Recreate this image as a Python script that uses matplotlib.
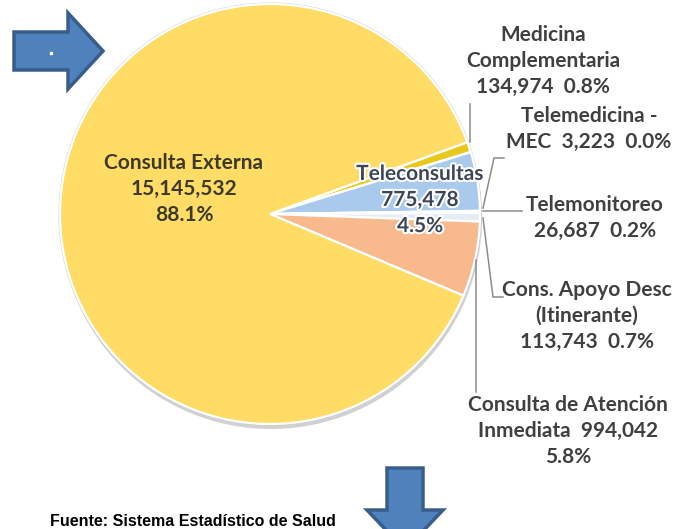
import matplotlib
matplotlib.use("Agg")
import matplotlib.pyplot as plt
from matplotlib.patches import Polygon, Circle
import matplotlib.patheffects as pe

# ---- data ----
categories = ["Medicina Complementaria", "Telemedicina - MEC", "Teleconsultas",
              "Telemonitoreo", "Cons. Apoyo Desc (Itinerante)",
              "Consulta de Atención Inmediata", "Consulta Externa"]
values = [134974, 3223, 775478, 26687, 113743, 994042, 15145532]
percents = ["0.8%", "0.0%", "4.5%", "0.2%", "0.7%", "5.8%", "88.1%"]
colors = ["#E9C81C", "#C9D9EE", "#A9CAEC", "#4A7EBB", "#E4ECF6", "#F8B98C", "#FFDC66"]
explode = [0.0, 0.0, 0.0, 0.0, 0.0, 0.0, 0.015]
source = "Fuente: Sistema Estadístico de Salud"

W, H = 686, 529
fig = plt.figure(figsize=(W / 100, H / 100), dpi=100)

# pie axes: pixel coordinates (y down)
cx, cy, r = 270, 214, 210
ax = fig.add_axes([0, 0, 1, 1])
ax.set_xlim(0, W)
ax.set_ylim(H, 0)
ax.axis("off")

# shadow / rim behind the pie
ax.add_patch(Circle((cx + 1, cy + 4), r + 1, facecolor="#9a9a9a", edgecolor="none", alpha=0.45, zorder=0))
ax.add_patch(Circle((cx, cy), r + 1.5, facecolor="#c8c8d8", edgecolor="none", zorder=0.5))

wedges, _ = ax.pie(values, colors=colors, explode=explode, startangle=-20,
                   counterclock=True, center=(cx, cy), radius=r, frame=True,
                   wedgeprops=dict(edgecolor="white", linewidth=1.6))
ax.set_xlim(0, W)
ax.set_ylim(H, 0)
ax.set_aspect("auto")
ax.axis("off")

font = "Lato"
tc = "#404040"

def lab(x, y, s, color=tc, glow=False, ha="center"):
    t = ax.text(x, y, s, ha=ha, va="center", fontsize=15, fontweight="bold",
                family=font, color=color, linespacing=1.38, zorder=10)
    if glow:
        t.set_path_effects([pe.withStroke(linewidth=3, foreground="white")])
    return t

def fmt(v):
    return f"{v:,}"

lab(184, 189, f"{categories[6]}\n{fmt(values[6])}\n{percents[6]}", color="#3d3a2c")
lab(420, 200, f"{categories[2]}\n{fmt(values[2])}\n{percents[2]}", color="#3c4656", glow=True)
lab(543, 61, f"Medicina\nComplementaria\n{fmt(values[0])}  {percents[0]}")
lab(589, 129, f"Telemedicina -\nMEC  {fmt(values[1])}  {percents[1]}")
lab(595, 218, f"{categories[3]}\n{fmt(values[3])}  {percents[3]}")
lab(587, 316, f"Cons. Apoyo Desc\n(Itinerante)\n{fmt(values[4])}  {percents[4]}")
lab(568, 431, f"Consulta de Atención\nInmediata  {fmt(values[5])}\n{percents[5]}")

lc = "#8c8c8c"
lw = 1.1
ax.plot([470, 470], [104, 142], color=lc, lw=lw, zorder=9)
ax.plot([504, 494, 483], [158, 158, 208], color=lc, lw=lw, zorder=9)
ax.plot([483, 522], [211, 211], color=lc, lw=lw, zorder=9)
ax.plot([483, 493, 503], [218, 297, 297], color=lc, lw=lw, zorder=9)
ax.plot([476, 476], [260, 392], color=lc, lw=lw, zorder=9)

# decorative arrows
arrow_fill, arrow_edge = "#4F81BD", "#385D8A"
ax.add_patch(Polygon([(14, 32), (68, 32), (68, 13), (103, 51), (68, 89), (68, 70), (14, 70)],
                     closed=True, facecolor=arrow_fill, edgecolor=arrow_edge, lw=2.5, zorder=12))
ax.plot([51], [53], marker="s", ms=2, color="white", zorder=13)
ax.add_patch(Polygon([(387, 468), (423, 468), (423, 510), (443, 510), (405, 550), (367, 510), (387, 510)],
                     closed=True, facecolor=arrow_fill, edgecolor=arrow_edge, lw=2.5, zorder=12))

ax.text(50, 522, source, ha="left", va="center", fontsize=11.5, fontweight="bold",
        family="Liberation Sans", color="black", zorder=12)

fig.savefig("out.png", dpi=100)
